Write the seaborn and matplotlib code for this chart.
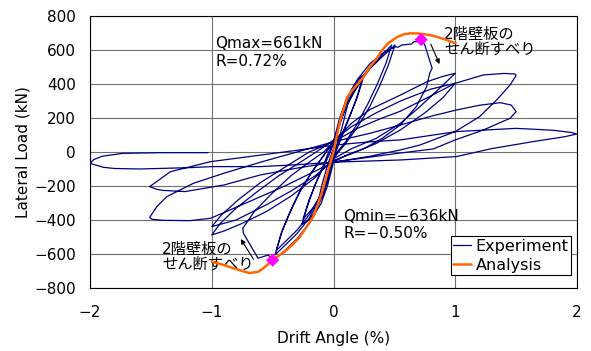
import pandas as pd
import matplotlib
matplotlib.use("Agg")
import matplotlib.pyplot as plt
import seaborn as sns

# Experiment path, read cycle by cycle (drift %, load kN)
c1_x = [0.0, 0.03, 0.07, 0.12, 0.09, 0.05, 0.0, -0.03, -0.07, -0.12, -0.09, -0.05, 0.0]
c1_y = [0, 110, 210, 290, 200, 90, -10, -110, -200, -270, -180, -80, 20]

c2_x = [0.0, 0.04, 0.09, 0.15, 0.2, 0.245, 0.2, 0.14, 0.08, 0.03, 0.0, -0.04, -0.09, -0.15, -0.2, -0.26, -0.21, -0.15, -0.09, -0.04, 0.0]
c2_y = [20, 150, 270, 370, 425, 453, 340, 220, 110, 20, -30, -150, -260, -350, -400, -425, -310, -190, -90, 0, 50]

c3_x = [0.0, 0.05, 0.1, 0.16, 0.24, 0.19, 0.12, 0.06, 0.02, 0.0, -0.05, -0.1, -0.17, -0.25, -0.2, -0.13, -0.07, -0.02, 0.0]
c3_y = [50, 160, 260, 350, 425, 310, 190, 90, 20, -20, -150, -250, -330, -395, -280, -160, -70, 10, 50]

c4_x = [0.0, 0.05, 0.1, 0.2, 0.3, 0.4, 0.478, 0.43, 0.36, 0.28, 0.19, 0.1, 0.03, 0.0, -0.05, -0.1, -0.2, -0.3, -0.4, -0.48, -0.43, -0.36, -0.28, -0.18, -0.08, 0.0]
c4_y = [50, 170, 270, 410, 500, 570, 629, 520, 400, 280, 160, 60, 0, -40, -170, -260, -390, -480, -550, -605, -480, -360, -240, -120, -20, 60]

c5_x = [0.0, 0.05, 0.1, 0.2, 0.3, 0.4, 0.505, 0.45, 0.38, 0.3, 0.2, 0.1, 0.03, 0.0, -0.05, -0.1, -0.2, -0.3, -0.4, -0.47, -0.42, -0.35, -0.27, -0.17, -0.07, 0.0]
c5_y = [60, 170, 260, 390, 490, 560, 629, 510, 390, 270, 150, 50, -10, -40, -160, -250, -370, -460, -530, -580, -460, -340, -220, -110, -10, 60]

# cycle with the shear slip of the 2nd floor wall panel
c6_x = [0.0, 0.05, 0.1, 0.2, 0.3, 0.4, 0.505, 0.53, 0.56, 0.64, 0.66, 0.7, 0.72, 0.75, 0.81, 0.79, 0.765,
        0.68, 0.55, 0.4, 0.25, 0.1, 0.0, -0.05, -0.1, -0.2, -0.3, -0.4, -0.46, -0.5, -0.535, -0.62, -0.74,
        -0.745, -0.65, -0.5, -0.35, -0.2, -0.08, 0.0]
c6_y = [60, 200, 300, 430, 520, 580, 619, 616, 629, 635, 649, 649, 661, 629, 492, 463, 384,
        267, 160, 80, 20, -20, -60, -200, -300, -420, -510, -580, -615, -636, -606, -625, -478,
        -449, -350, -240, -140, -60, 0, 60]

c7_x = [0.0, 0.15, 0.3, 0.55, 0.77, 0.9, 1.0, 0.85, 0.7, 0.55, 0.35, 0.15, 0.0, -0.15, -0.35, -0.55, -0.75, -0.9, -1.0, -0.93, -0.8, -0.62, -0.45, -0.25, -0.1, 0.0]
c7_y = [60, 170, 250, 335, 414, 445, 463, 360, 260, 169, 80, 20, -40, -150, -260, -350, -420, -465, -488, -420, -330, -230, -140, -50, 20, 70]

c8_x = [0.0, 0.15, 0.35, 0.55, 0.8, 1.0, 0.9, 0.75, 0.55, 0.35, 0.15, 0.0, -0.15, -0.35, -0.55, -0.8, -1.0, -0.92, -0.78, -0.6, -0.4, -0.2, 0.0]
c8_y = [70, 150, 230, 300, 370, 404, 320, 230, 130, 50, -10, -50, -140, -230, -310, -400, -439, -370, -280, -180, -90, 0, 60]

c9_x = [0.0, 0.2, 0.4, 0.55, 0.8, 1.0, 1.23, 1.4, 1.49, 1.5, 1.45, 1.34, 1.2, 1.0, 0.71, 0.55, 0.3, 0.0,
        -0.2, -0.4, -0.6, -0.85, -1.01, -1.18, -1.4, -1.49, -1.51, -1.45, -1.37, -1.15, -0.9, -0.6, -0.3, 0.0]
c9_y = [60, 140, 200, 240, 330, 404, 453, 462, 459, 450, 394, 306, 208, 120, 41, 12, -25, -60,
        -130, -200, -263, -341, -390, -404, -402, -396, -385, -320, -263, -184, -125, -60, 0, 60]

c10_x = [0.0, 0.3, 0.55, 0.8, 1.01, 1.2, 1.37, 1.46, 1.5, 1.45, 1.23, 1.0, 0.82, 0.55, 0.3, 0.0,
         -0.3, -0.6, -0.9, -1.22, -1.4, -1.45, -1.51, -1.34, -1.01, -0.6, -0.3, 0.0]
c10_y = [60, 110, 159, 210, 247, 275, 290, 276, 237, 198, 129, 71, 18, -6, -30, -60,
         -95, -135, -194, -233, -226, -220, -204, -116, -57, -18, 10, 40]

c11_x = [0.0, 0.3, 0.55, 1.01, 1.5, 1.8, 1.95, 2.0, 1.9, 1.64, 1.3, 1.01, 0.55, 0.0,
         -0.3, -0.6, -1.0, -1.18, -1.59, -1.8, -1.89, -2.0, -1.97, -1.9, -1.73, -1.4, -1.03]
c11_y = [40, 60, 71, 120, 139, 128, 115, 106, 90, 61, 20, -27, -47, -60,
         -75, -86, -86, -92, -100, -97, -90, -67, -45, -25, -8, -4, -4]

# Analysis envelope
ana_x = [-1.0, -0.95, -0.9, -0.82, -0.75, -0.69, -0.62, -0.577, -0.5, -0.45, -0.384, -0.33, -0.275, -0.22,
         -0.166, -0.13, -0.097, -0.07, -0.043, -0.02, 0.0, 0.026, 0.06, 0.094, 0.11, 0.15, 0.2, 0.245, 0.3,
         0.355, 0.4, 0.45, 0.52, 0.58, 0.63, 0.7, 0.79, 0.86, 0.93, 1.0]
ana_y = [-645, -655, -665, -684, -700, -712, -705, -684, -638, -610, -576, -540, -498, -440,
         -380, -310, -243, -175, -106, -50, 0, 90, 200, 276, 320, 360, 400, 440, 500,
         550, 600, 640, 675, 693, 698, 697, 688, 675, 659, 640]

# peak points
peak_x = [0.72, -0.5]
peak_y = [661, -636]

exp_x = c1_x + c2_x + c3_x + c4_x + c5_x + c6_x + c7_x + c8_x + c9_x + c10_x + c11_x
exp_y = c1_y + c2_y + c3_y + c4_y + c5_y + c6_y + c7_y + c8_y + c9_y + c10_y + c11_y
exp = pd.DataFrame({'x': exp_x, 'y': exp_y})
ana = pd.DataFrame({'x': ana_x, 'y': ana_y})

sns.set_style("white")
plt.rcParams['font.family'] = ['DejaVu Sans', 'Noto Sans CJK JP']
plt.rcParams['axes.unicode_minus'] = True
plt.rcParams['text.color'] = 'black'
plt.rcParams['axes.labelcolor'] = 'black'
plt.rcParams['xtick.color'] = 'black'
plt.rcParams['ytick.color'] = 'black'

fig = plt.figure(figsize=(5.91, 3.51), dpi=100)
ax = fig.add_axes([0.1523, 0.1795, 0.824, 0.775])

sns.lineplot(data=exp, x='x', y='y', sort=False, estimator=None, color='#000080', lw=0.9,
             label='Experiment', ax=ax, zorder=3)
sns.lineplot(data=ana, x='x', y='y', sort=False, estimator=None, color='#FF6600', lw=1.8,
             label='Analysis', ax=ax, zorder=4)
sns.scatterplot(x=peak_x, y=peak_y, marker='D', s=45, color='#FF00FF', edgecolor='none',
                ax=ax, zorder=5, legend=False)

ax.set_xlim(-2, 2)
ax.set_ylim(-800, 800)
ax.set_xticks([-2, -1, 0, 1, 2])
ax.set_yticks(range(-800, 801, 200))
ax.grid(True, color='#707070', lw=0.8)
ax.set_axisbelow(True)
for s in ax.spines.values():
    s.set_color('black')
    s.set_linewidth(0.8)
ax.tick_params(axis='y', length=0, pad=10, labelsize=11, colors='black')
ax.tick_params(axis='x', length=0, pad=12, labelsize=11, colors='black')
ax.set_xlabel('Drift Angle (%)', fontsize=11, labelpad=8, color='black')
ax.set_ylabel('Lateral Load (kN)', fontsize=11, labelpad=3, color='black')

ax.text(-0.97, 680, 'Qmax=661kN\nR=0.72%', fontsize=11, va='top', ha='left', color='black')
ax.text(0.08, -335, 'Qmin=\u2212636kN\nR=\u22120.50%', fontsize=11, va='top', ha='left', color='black')
ax.text(0.91, 735, '2階壁板の\nせん断すべり', fontsize=11, va='top', ha='left', linespacing=1.0, color='black')
ax.text(-1.41, -528, '2階壁板の\nせん断すべり', fontsize=11, va='top', ha='left', linespacing=1.0, color='black')
ax.annotate('', xy=(0.88, 502), xytext=(0.79, 649),
            arrowprops=dict(arrowstyle='-|>', color='black', lw=0.8, mutation_scale=7))
ax.annotate('', xy=(-0.774, -498), xytext=(-0.645, -645),
            arrowprops=dict(arrowstyle='-|>', color='black', lw=0.8, mutation_scale=7))

leg = ax.legend(loc='lower right', bbox_to_anchor=(0.988, 0.048), borderaxespad=0, fontsize=11.5,
                frameon=True, fancybox=False, framealpha=1, edgecolor='black',
                handlelength=1.1, handletextpad=0.3, borderpad=0.15, labelspacing=0.25)
leg.get_frame().set_linewidth(0.8)
for t in leg.get_texts():
    t.set_color('black')

fig.savefig('out.png', dpi=100)
